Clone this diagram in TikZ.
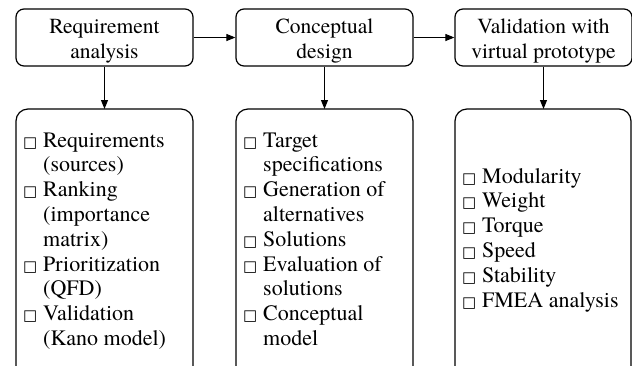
\documentclass[tikz,border=0pt]{standalone}
\usepackage{fontspec}
\setmainfont{texgyretermes}[Extension=.otf,UprightFont=*-regular,BoldFont=*-bold,ItalicFont=*-italic,BoldItalicFont=*-bolditalic]
\newfontfamily\symf{DejaVu Sans}
\usetikzlibrary{arrows.meta}
\newcommand{\bx}{\makebox[20pt][l]{\symf\fontsize{15}{15}\selectfont □}}
\begin{document}
\begin{tikzpicture}[x=1pt,y=-1pt,
  stage/.style={draw,line width=1.2pt,rounded corners=8pt,minimum width=177pt,minimum height=57pt,inner sep=0pt},
  stagetext/.style={inner sep=0pt,align=center,font=\fontsize{21.5}{25}\selectfont},
  listbox/.style={draw,line width=1.2pt,rounded corners=12pt},
  listtext/.style={anchor=base west,inner sep=0pt,font=\fontsize{22}{24.8}\selectfont},
  flow/.style={line width=1pt,-{Triangle[length=9pt,width=7pt]}}]
\useasboundingbox (0,0) rectangle (632,365);
\node[stage] (s1) at (104.5,37.5) {};
\node[stage] (s2) at (324.5,37.5) {};
\node[stage] (s3) at (543.5,37.5) {};
\node[stagetext] (n1) at (104.5,41) {Requirement\\analysis};
\node[stagetext] (n2) at (324.5,41) {Conceptual\\design};
\node[stagetext] (n3) at (543.5,41) {Validation with\\virtual prototype};
\draw[listbox] (16,380) -- (16,109) -- (193,109) -- (193,380);
\draw[listbox] (236,380) -- (236,109) -- (413,109) -- (413,380);
\draw[listbox] (455,380) -- (455,109) -- (631,109) -- (631,380);
\coordinate (l1) at (104.5,109);
\coordinate (l2) at (324.5,109);
\coordinate (l3) at (543.5,109);
\node[listtext] (t1) at (23,147) {\begin{tabular}[t]{@{}l@{}l@{}}\bx&Requirements\\&(sources)\\\bx&Ranking\\&(importance\\&matrix)\\\bx&Prioritization\\&(QFD)\\\bx&Validation\\&(Kano model)\end{tabular}};
\node[listtext] (t2) at (243,147) {\begin{tabular}[t]{@{}l@{}l@{}}\bx&Target\\&specifications\\\bx&Generation of\\&alternatives\\\bx&Solutions\\\bx&Evaluation of\\&solutions\\\bx&Conceptual\\&model\end{tabular}};
\node[listtext] (t3) at (462,183) {\begin{tabular}[t]{@{}l@{}l@{}}\bx&Modularity\\\bx&Weight\\\bx&Torque\\\bx&Speed\\\bx&Stability\\\bx&FMEA analysis\end{tabular}};
\draw[flow] (s1) -- (s2);
\draw[flow] (s2) -- (s3);
\draw[flow] (s1.south) -- (l1);
\draw[flow] (s2.south) -- (l2);
\draw[flow] (s3.south) -- (l3);
\end{tikzpicture}
\end{document}
